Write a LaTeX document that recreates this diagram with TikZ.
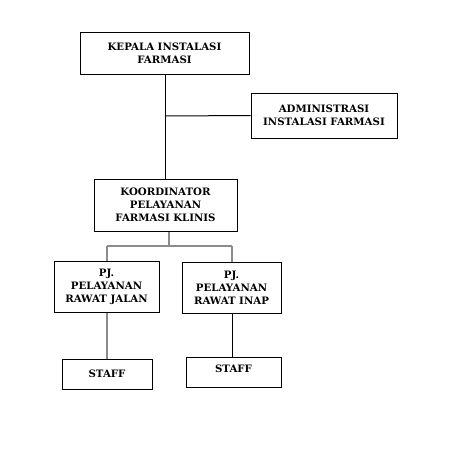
\documentclass[tikz,border=0pt]{standalone}
\usepackage{fontspec}
\setmainfont{DejaVu Serif}
\begin{document}
\begin{tikzpicture}[x=1pt,y=-1pt,
  box/.style={draw=black, line width=1pt, align=center, inner sep=0pt,
    font=\bfseries\fontsize{10.2}{13}\selectfont},
  blk/.style={draw=black, line width=1pt},
  gry/.style={draw=black!45, line width=1.3pt}]
\useasboundingbox (0,0) rectangle (457,453);
\node[box, minimum width=169pt, minimum height=42pt] (kepala) at (164.5,53) {KEPALA INSTALASI\\FARMASI};
\node[box, minimum width=146pt, minimum height=45pt] (admin) at (324,115.5) {ADMINISTRASI\\INSTALASI FARMASI};
\node[box, minimum width=143pt, minimum height=52pt] (koord) at (165.5,205) {KOORDINATOR\\PELAYANAN\\FARMASI KLINIS};
\node[box, minimum width=105pt, minimum height=51pt] (jalan) at (106.5,286.5) {PJ.\\PELAYANAN\\RAWAT JALAN};
\node[box, minimum width=99pt, minimum height=51pt] (inap) at (231.5,287.5) {PJ.\\PELAYANAN\\RAWAT INAP};
\node[box, minimum width=90pt, minimum height=30pt] (staff1) at (107,374) {STAFF};
\node[box, minimum width=95pt, minimum height=30pt, text depth=6pt] (staff2) at (233.5,372) {STAFF};
\coordinate (j1) at (165,116);
\coordinate (k1) at (169,246);
\coordinate (k2) at (107,246);
\coordinate (k3) at (232,246);
\draw[blk] (kepala.south -| j1) -- (koord.north -| j1);
\draw[blk] (j1) -- (admin.west);
\draw[gry] (koord.south -| k1) -- (k1);
\draw[gry] (k2) -- (k3);
\draw[gry] (k2) -- (jalan.north -| k2);
\draw[gry] (k3) -- (inap.north -| k3);
\draw[gry] (jalan.south -| k2) -- (staff1.north -| k2);
\draw[blk] (inap.south -| k3) -- (staff2.north -| k3);
\end{tikzpicture}
\end{document}
